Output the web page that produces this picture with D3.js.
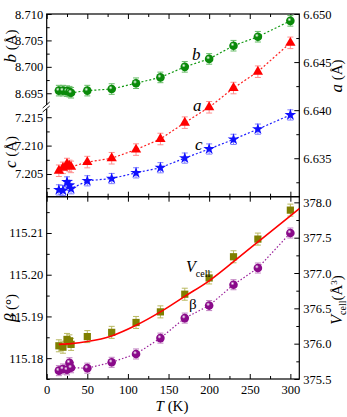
<!DOCTYPE html>
<html>
<head>
<meta charset="utf-8">
<script src="https://cdn.jsdelivr.net/npm/d3@7"></script>
<style>
  body { margin: 0; background: #fff; }
  svg text { font-family: "Liberation Serif", "DejaVu Serif", serif; fill: #000; }
</style>
</head>
<body>
<div id="chart"></div>
<script>
// temperatures (K)
const temps = [15, 20, 25, 28, 30, 50, 80, 110, 140, 170, 200, 230, 260, 300];
// lattice parameters
const bVals = [8.6955, 8.6955, 8.6954, 8.6953, 8.6951, 8.6955, 8.6958, 8.6969, 8.6980, 8.7000, 8.7015, 8.7040, 8.7057, 8.7087];
const aVals = [6.6337, 6.6340, 6.6344, 6.6342, 6.6341, 6.6346, 6.6350, 6.6359, 6.6370, 6.6387, 6.6403, 6.6423, 6.6440, 6.6470];
const cVals = [7.2022, 7.2021, 7.2036, 7.2030, 7.2024, 7.2038, 7.2042, 7.2052, 7.2061, 7.2078, 7.2094, 7.2111, 7.2129, 7.2154];
const betaVals = [115.1770, 115.1774, 115.1772, 115.1789, 115.1777, 115.1776, 115.1790, 115.1810, 115.1848, 115.1896, 115.1926, 115.1976, 115.2016, 115.2100];
const vVals = [375.97, 375.95, 376.06, 376.04, 375.99, 376.10, 376.16, 376.30, 376.45, 376.70, 376.93, 377.23, 377.48, 377.89];
// error bars
const bErr = 0.0010, aErr = 0.0006, cErr = 0.0009, betaErr = 0.0012, vErr = 0.085;
// fitted volume curve
const fitT = [15, 30, 50, 80, 110, 140, 170, 200, 230, 260, 300, 311];
const fitV = [375.99, 376.00, 376.03, 376.11, 376.26, 376.45, 376.67, 376.89, 377.16, 377.44, 377.81, 377.91];
// ticks
const xTicks = [0, 50, 100, 150, 200, 250, 300];
const xMinor = [25, 75, 125, 175, 225, 275];
const bTicks = [8.695, 8.700, 8.705, 8.710];
const bMinor = [8.6975, 8.7025, 8.7075];
const cTicks = [7.205, 7.210, 7.215];
const cMinor = [7.2025, 7.2075, 7.2125];
const aTicks = [6.635, 6.640, 6.645, 6.650];
const aMinor = [6.6325, 6.6375, 6.6425, 6.6475];
const betaTicks = [115.18, 115.19, 115.20, 115.21];
const betaMinor = [115.175, 115.185, 115.195, 115.205, 115.215];
const vTicks = [375.5, 376.0, 376.5, 377.0, 377.5, 378.0];
const vMinor = [375.75, 376.25, 376.75, 377.25, 377.75];

const W = 347, H = 417;
const L = 46.7, R = 299.3, T0 = 14, MID = 196.7, B = 379, BRK = 107;

const svg = d3.select('#chart').append('svg').attr('width', W).attr('height', H);

const x = d3.scaleLinear([0, 311], [L, R]);
const yB = d3.scaleLinear([8.6924, 8.710], [BRK, T0]);
const yC = d3.scaleLinear([7.2010, 7.2168], [MID, BRK]);
const yA = d3.scaleLinear([6.631, 6.650], [MID, T0]);
const yBeta = d3.scaleLinear([115.175, 115.2187], [B, MID]);
const yV = d3.scaleLinear([375.5, 378.08], [B, MID]);

const defs = svg.append('defs');
function sphere(id, color) {
  const g = defs.append('radialGradient').attr('id', id)
    .attr('cx', '0.38').attr('cy', '0.35').attr('r', '0.65');
  g.append('stop').attr('offset', '0').attr('stop-color', '#ffffff');
  g.append('stop').attr('offset', '0.35').attr('stop-color', color);
  g.append('stop').attr('offset', '1').attr('stop-color', color);
}
sphere('gGreen', '#0a8a0a');
sphere('gPurple', '#8a0a8a');

// axis with inward major + minor ticks; make() returns a fresh axis generator
function addAxis(make, tx, ty, fmt, ticks, minor, pad) {
  const major = svg.append('g').attr('transform', `translate(${tx},${ty})`)
    .call(make().tickValues(ticks).tickSize(-5).tickPadding(pad).tickFormat(fmt));
  major.select('.domain').remove();
  major.selectAll('text').attr('font-size', 12.5);
  if (minor) {
    const mg = svg.append('g').attr('transform', `translate(${tx},${ty})`)
      .call(make().tickValues(minor).tickSize(-3).tickFormat(''));
    mg.select('.domain').remove();
  }
}

// x axes
addAxis(() => d3.axisBottom(x), 0, B, d3.format('d'), xTicks, xMinor, 6);
addAxis(() => d3.axisTop(x), 0, MID, '', xTicks, xMinor, 3);
addAxis(() => d3.axisBottom(x), 0, MID, '', xTicks, xMinor, 3);
addAxis(() => d3.axisTop(x), 0, T0, '', xTicks, xMinor, 3);

// y axes
addAxis(() => d3.axisLeft(yB), L, 0, d3.format('.3f'), bTicks, bMinor, 3.5);
addAxis(() => d3.axisLeft(yC), L, 0, d3.format('.3f'), cTicks, cMinor, 3.5);
addAxis(() => d3.axisRight(yA), R, 0, d3.format('.3f'), aTicks, aMinor, 4);
addAxis(() => d3.axisLeft(yBeta), L, 0, d3.format('.2f'), betaTicks, betaMinor, 3.5);
addAxis(() => d3.axisRight(yV), R, 0, d3.format('.1f'), vTicks, vMinor, 4);

// frames
svg.append('rect').attr('x', L).attr('y', T0).attr('width', R - L).attr('height', MID - T0)
  .attr('fill', 'none').attr('stroke', '#000').attr('stroke-width', 1.2);
svg.append('rect').attr('x', L).attr('y', MID).attr('width', R - L).attr('height', B - MID)
  .attr('fill', 'none').attr('stroke', '#000').attr('stroke-width', 1.2);

// axis break
svg.append('rect').attr('x', L - 3).attr('y', BRK - 2).attr('width', 6).attr('height', 4).attr('fill', '#fff');
[-2, 2].forEach(d => {
  svg.append('line').attr('x1', L - 4).attr('y1', BRK + d + 3).attr('x2', L + 3).attr('y2', BRK + d - 3)
    .attr('stroke', '#000').attr('stroke-width', 0.9);
});

function errorBars(vals, yScale, err, errColor) {
  const eg = svg.append('g').attr('stroke', errColor).attr('stroke-width', 1);
  temps.forEach((t, i) => {
    const cx = x(t), y1 = yScale(vals[i] - err), y2 = yScale(vals[i] + err);
    eg.append('line').attr('x1', cx).attr('x2', cx).attr('y1', y1).attr('y2', y2);
    eg.append('line').attr('x1', cx - 3).attr('x2', cx + 3).attr('y1', y1).attr('y2', y1);
    eg.append('line').attr('x1', cx - 3).attr('x2', cx + 3).attr('y1', y2).attr('y2', y2);
  });
}

function drawSeries(vals, yScale, err, color, errColor, dash, marker) {
  const pts = temps.map((t, i) => ({ t, v: vals[i] }));
  if (dash) {
    const line = d3.line().x(d => x(d.t)).y(d => yScale(d.v));
    svg.append('path').datum(pts).attr('d', line)
      .attr('fill', 'none').attr('stroke', color).attr('stroke-width', 1.2).attr('stroke-dasharray', dash);
  }
  errorBars(vals, yScale, err, errColor);
  const mg = svg.append('g');
  pts.forEach(d => marker(mg, x(d.t), yScale(d.v)));
}

const circ = fill => (g, cx, cy) => g.append('circle').attr('cx', cx).attr('cy', cy).attr('r', 4.3).attr('fill', fill);
const sym = (type, size, fill) => (g, cx, cy) => g.append('path')
  .attr('d', d3.symbol(type, size)()).attr('transform', `translate(${cx},${cy})`).attr('fill', fill);

drawSeries(bVals, yB, bErr, '#119911', '#66bb66', '2,2', circ('url(#gGreen)'));
drawSeries(aVals, yA, aErr, '#ff2020', '#ff9090', '2,2', sym(d3.symbolTriangle, 46, '#ff0000'));
drawSeries(cVals, yC, cErr, '#2020ff', '#8080ff', '2,2', sym(d3.symbolStar, 42, '#1010ff'));
drawSeries(betaVals, yBeta, betaErr, '#9a209a', '#c080c0', '1.5,2', circ('url(#gPurple)'));
drawSeries(vVals, yV, vErr, null, '#b8b860', null, sym(d3.symbolSquare, 52, '#7f7f00'));

// fit line
svg.append('path')
  .datum(fitT.map((t, i) => [t, fitV[i]]))
  .attr('d', d3.line().x(d => x(d[0])).y(d => yV(d[1])).curve(d3.curveMonotoneX))
  .attr('fill', 'none').attr('stroke', '#ff0000').attr('stroke-width', 1.6);

// inline labels
const lab = (tx, ty, txt, size) => svg.append('text').attr('x', tx).attr('y', ty)
  .attr('font-size', size).attr('font-style', 'italic').text(txt);
lab(192, 60, 'b', 17);
lab(193, 111, 'a', 17);
lab(195, 150, 'c', 17);
const vl = svg.append('text').attr('x', 186).attr('y', 272).attr('font-size', 16);
vl.append('tspan').attr('font-style', 'italic').text('V');
vl.append('tspan').attr('font-size', 10).attr('dy', 5).text('cell');
svg.append('text').attr('x', 189).attr('y', 309).attr('font-size', 15).text('β');

// axis titles
function yTitle(cx, cy, parts) {
  const t = svg.append('text').attr('transform', `translate(${cx},${cy}) rotate(-90)`)
    .attr('text-anchor', 'middle').attr('font-size', 15);
  parts.forEach(p => {
    const s = t.append('tspan').text(p.t);
    if (p.i) s.attr('font-style', 'italic').attr('font-size', 17);
    if (p.fs) s.attr('font-size', p.fs);
    if (p.dy) s.attr('dy', p.dy);
  });
}
yTitle(16, 46, [{ t: 'b', i: true }, { t: ' (Å)' }]);
yTitle(16, 152, [{ t: 'c', i: true }, { t: ' (Å)' }]);
yTitle(16, 308, [{ t: 'β', i: true }, { t: ' (°)' }]);
yTitle(342, 76, [{ t: 'a', i: true }, { t: ' (Å)' }]);
yTitle(342, 300, [{ t: 'V', i: true, fs: 16 }, { t: 'cell', fs: 10, dy: 4 }, { t: '(Å', fs: 15, dy: -4 }, { t: '3', fs: 9, dy: -5 }, { t: ')', fs: 15, dy: 5 }]);

const xt = svg.append('text').attr('x', 172).attr('y', 411).attr('text-anchor', 'middle').attr('font-size', 15);
xt.append('tspan').attr('font-style', 'italic').text('T');
xt.append('tspan').text(' (K)');
</script>
</body>
</html>
